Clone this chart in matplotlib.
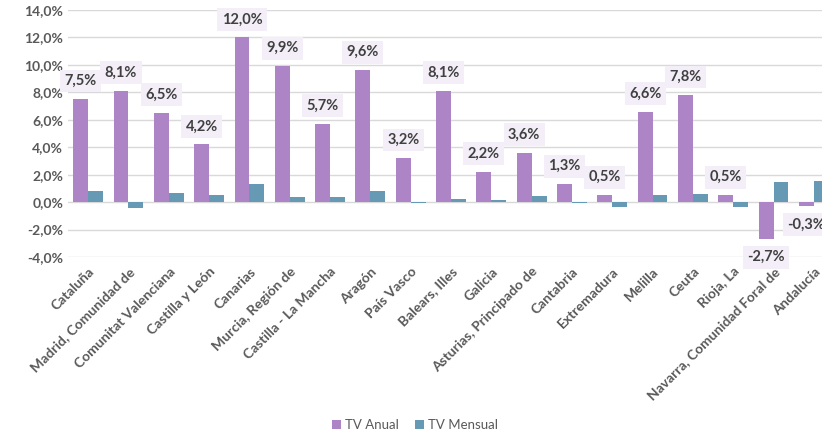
import numpy as np
import matplotlib.pyplot as plt
from matplotlib.ticker import FuncFormatter

regions = ["Cataluña", "Madrid, Comunidad de", "Comunitat Valenciana", "Castilla y León",
           "Canarias", "Murcia, Región de", "Castilla - La Mancha", "Aragón", "País Vasco",
           "Balears, Illes", "Galicia", "Asturias, Principado de", "Cantabria", "Extremadura",
           "Melilla", "Ceuta", "Rioja, La", "Navarra, Comunidad Foral de", "Andalucía"]
tv_anual = [7.5, 8.1, 6.5, 4.2, 12.0, 9.9, 5.7, 9.6, 3.2, 8.1, 2.2, 3.6, 1.3, 0.5,
            6.6, 7.8, 0.5, -2.7, -0.3]
tv_mensual = [0.8, -0.4, 0.65, 0.5, 1.35, 0.37, 0.37, 0.8, -0.05, 0.2, 0.12, 0.42, -0.03,
              -0.37, 0.5, 0.58, -0.37, 1.49, 1.56]

purple = "#AD84C6"
teal = "#6699B3"
txt = "#595959"

plt.rcParams['font.family'] = ['Lato', 'DejaVu Sans']

fig = plt.figure(figsize=(8.22, 4.34), dpi=100)
ax = fig.add_axes([68 / 822, 1 - 257 / 434, 766 / 822, 247 / 434])

x = np.arange(len(regions))
w = 0.37
ax.bar(x - w / 2, tv_anual, w, color=purple, label="TV Anual", zorder=3)
ax.bar(x + w / 2, tv_mensual, w, color=teal, label="TV Mensual", zorder=3)

# etiquetas solo para la tasa anual
for xi, v in zip(x, tv_anual):
    lbl = f"{v:.1f}%".replace(".", ",")
    off = 8 if v >= 0 else -8
    ax.annotate(lbl, (xi - w / 2, v), xytext=(0, off), textcoords="offset points",
                ha="center", va="bottom" if v >= 0 else "top", fontsize=10.5,
                fontweight="bold", color="#404040",
                bbox=dict(boxstyle="square,pad=0.3", fc="#F3EEF7", ec="none"), zorder=4)

ax.set_ylim(-4, 14)
ax.set_yticks(np.arange(-4, 15, 2))
ax.yaxis.set_major_formatter(FuncFormatter(lambda v, p: f"{v:.1f}%".replace(".", ",")))
ax.set_xlim(-0.5, len(regions) - 0.5)
ax.set_xticks(x)
ax.set_xticklabels(regions, rotation=45, ha="right", rotation_mode="anchor")
ax.grid(axis="y", color="#D9D9D9", lw=1, zorder=0)
for s in ax.spines.values():
    s.set_visible(False)
ax.tick_params(length=0, colors=txt, labelsize=10)
ax.tick_params(axis="x", pad=6)
for t in ax.get_xticklabels() + ax.get_yticklabels():
    t.set_fontweight("bold")

fig.legend(loc="center", bbox_to_anchor=(415 / 822, 1 - 425 / 434), ncol=2, frameon=False,
           fontsize=9.5, labelcolor=txt, handlelength=0.7, handleheight=0.7, columnspacing=1.2,
           handletextpad=0.3)

fig.savefig("out.png", dpi=100)
